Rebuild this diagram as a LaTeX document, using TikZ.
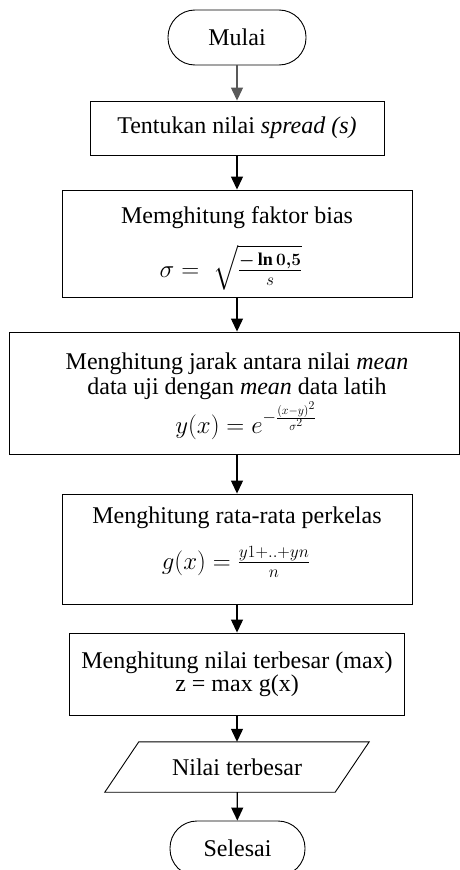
\documentclass[tikz,border=0pt]{standalone}
\usepackage{amsmath}
\usepackage{fontspec}
\setmainfont{Liberation Serif}
\usetikzlibrary{arrows.meta}
\begin{document}
\begin{tikzpicture}[x=1pt,y=-1pt,
  every node/.style={font=\fontsize{24}{27}\selectfont, inner sep=0pt},
  proc/.style={draw, line width=0.9pt, rectangle},
  term/.style={draw, line width=0.9pt, rounded corners=27pt, minimum width=138pt, minimum height=55pt},
  flow/.style={line width=1.2pt, -{Triangle[width=12pt,length=13pt]}}
]
\useasboundingbox (0,0) rectangle (460,870);
\fill[white] (0,0) rectangle (460,870);
\clip (0,0) rectangle (460,870);

\node[term] (start) at (237,37.5) {Mulai};

\node[proc, minimum width=294pt, minimum height=54pt] (s1) at (237,128) {Tentukan nilai \textit{spread (s)}};

\node[proc, minimum width=350pt, minimum height=107pt] (s2) at (237,243.5) {};
\node[anchor=base] (s2a) at (237,223) {Memghitung faktor bias};
\node[anchor=base] (s2b) at (231,277) {$\sigma =\; \sqrt{\frac{\text{\fontsize{18}{20}\selectfont\boldmath$-\ln 0{,}5$}}{\text{\fontsize{18}{20}\selectfont$s$}}}$};

\node[proc, minimum width=450pt, minimum height=122pt] (s3) at (234,393) {};
\node[anchor=base] (s3a) at (237,369) {Menghitung jarak antara nilai \textit{mean}};
\node[anchor=base] (s3b) at (237,394) {data uji dengan \textit{mean} data latih};
\node[anchor=base] (s3c) at (246,433) {$y(x) = e^{-\frac{(x-y)^2}{\sigma^2}}$};

\node[proc, minimum width=350pt, minimum height=110pt] (s4) at (237,549) {};
\node[anchor=base] (s4a) at (237,523) {Menghitung rata-rata perkelas};
\node[anchor=base] (s4b) at (236,569) {$g(x) = \frac{y1{+}..{+}yn}{n}$};

\node[proc, minimum width=335pt, minimum height=82pt] (s5) at (237,674) {};
\node[anchor=base] (s5a) at (237,668) {Menghitung nilai terbesar (max)};
\node[anchor=base] (s5b) at (237,691) {z = max g(x)};

\node[minimum width=230pt, minimum height=50pt] (out) at (237,767) {Nilai terbesar};
\draw[line width=0.9pt] ([xshift=17pt]out.north west) -- ([xshift=17pt]out.north east)
  -- ([xshift=-17pt]out.south east) -- ([xshift=-17pt]out.south west) -- cycle;

\node[term, minimum width=135pt] (end) at (237.5,848.5) {Selesai};

\draw[flow, draw=black!65, fill=black!65] (start) -- (s1);
\draw[flow] (s1) -- (s2);
\draw[flow] (s2.south) -- (s2.south |- s3.north);
\draw[flow] (s3.south -| s2.south) -- (s4.north);
\draw[flow] (s4) -- (s5);
\draw[flow] (s5) -- (out);
\draw[flow] (out) -- (end);
\end{tikzpicture}
\end{document}
